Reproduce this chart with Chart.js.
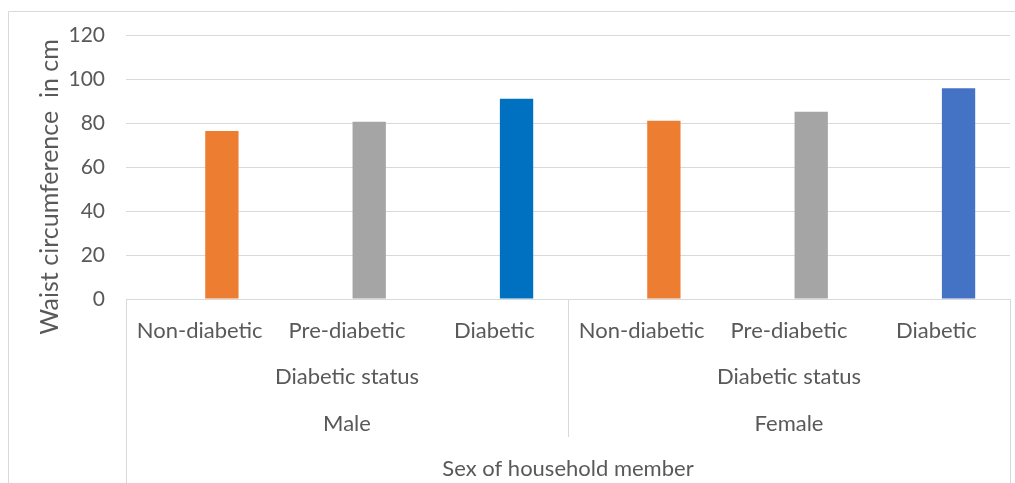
<!DOCTYPE html>
<html>
<head>
<meta charset="utf-8">
<script src="https://cdn.jsdelivr.net/npm/chart.js@4.4.1/dist/chart.umd.min.js"></script>
<style>
  html, body { margin: 0; padding: 0; background: #fff; }
  #wrap { position: relative; width: 1015px; height: 483px; }
</style>
</head>
<body>
<div id="wrap"><canvas id="c"></canvas></div>
<script>
// Mean waist circumference by diabetic status, split by sex
const categories = ['Non-diabetic', 'Pre-diabetic', 'Diabetic', 'Non-diabetic', 'Pre-diabetic', 'Diabetic'];
const waistCm = [76.4, 80.6, 91.0, 81.0, 85.1, 95.8];
const barColors = ['#ED7D31', '#A5A5A5', '#0070C0', '#ED7D31', '#A5A5A5', '#4472C4'];
const sexGroups = ['Male', 'Female'];
const statusTitle = 'Diabetic status';
const sexTitle = 'Sex of household member';
const yTitle = 'Waist circumference  in cm';
const yMin = 0, yMax = 120, yStep = 20;

const TEXT = '#595959';
const LINE = '#D9D9D9';
const FONT = 'Lato, "Noto Sans", sans-serif';

// Light frame, boxed multi-level category axis and the rotated value-axis title
const framePlugin = {
  id: 'frame',
  beforeDraw(chart) {
    const ctx = chart.ctx;
    ctx.save();
    ctx.fillStyle = '#fff';
    ctx.fillRect(0, 0, chart.width, chart.height);
    ctx.strokeStyle = LINE;
    ctx.lineWidth = 1;
    ctx.beginPath();
    ctx.moveTo(8.5, chart.height);
    ctx.lineTo(8.5, 11.5);
    ctx.lineTo(chart.width, 11.5);
    ctx.stroke();
    ctx.restore();
  },
  afterDraw(chart) {
    const { ctx, chartArea: a, scales } = chart;
    const x = scales.x, x2 = scales.x2;
    const crisp = v => Math.round(v) + 0.5;
    const mid = x.getPixelForValue(categories.length / 2 - 0.5);
    ctx.save();
    ctx.strokeStyle = LINE;
    ctx.lineWidth = 1;
    ctx.beginPath();
    ctx.moveTo(crisp(a.left), a.bottom);
    ctx.lineTo(crisp(a.left), chart.height);
    ctx.moveTo(crisp(a.right), a.bottom);
    ctx.lineTo(crisp(a.right), chart.height);
    ctx.moveTo(crisp(mid), a.bottom);
    ctx.lineTo(crisp(mid), x2.bottom - 46);
    ctx.stroke();

    ctx.translate(49.5, 187);
    ctx.rotate(-Math.PI / 2);
    ctx.fillStyle = TEXT;
    ctx.font = '25px ' + FONT;
    ctx.textAlign = 'center';
    ctx.textBaseline = 'middle';
    ctx.fillText(yTitle, 0, 0);
    ctx.restore();
  }
};

new Chart(document.getElementById('c'), {
  type: 'bar',
  data: {
    labels: categories,
    datasets: [
      { label: 'spacer', data: categories.map(() => null), xAxisID: 'x' },
      { label: 'Waist circumference', data: waistCm, backgroundColor: barColors, xAxisID: 'x' }
    ]
  },
  options: {
    responsive: true,
    maintainAspectRatio: false,
    animation: false,
    layout: { padding: { left: 0, top: 35, right: 5, bottom: 0 } },
    datasets: { bar: { categoryPercentage: 0.603, barPercentage: 0.75 } },
    plugins: { legend: { display: false }, tooltip: { enabled: false } },
    scales: {
      x: {
        type: 'category',
        offset: true,
        grid: { display: false },
        border: { display: false },
        ticks: {
          autoSkip: false, maxRotation: 0,
          padding: 11,
          color: TEXT,
          font: { family: FONT, size: 22 }
        },
        afterFit(s) { s.height = 46; }
      },
      x2: {
        type: 'category',
        position: 'bottom',
        weight: 1,
        offset: true,
        labels: sexGroups.map(g => [statusTitle, g]),
        grid: { display: false },
        border: { display: false },
        ticks: {
          autoSkip: false, maxRotation: 0,
          padding: 0,
          color: TEXT,
          font: { family: FONT, size: 22, lineHeight: 47.5 / 22 }
        },
        title: {
          display: true,
          text: sexTitle,
          color: TEXT,
          font: { family: FONT, size: 22 },
          padding: { top: 0, bottom: 1 }
        },
        afterFit(s) { s.height = 138; }
      },
      y: {
        min: yMin, max: yMax,
        ticks: {
          stepSize: yStep,
          padding: 21,
          color: TEXT,
          font: { family: FONT, size: 21 }
        },
        grid: { color: LINE, lineWidth: 1, drawTicks: false },
        border: { display: false },
        afterFit(s) { s.width = 126; }
      }
    }
  },
  plugins: [framePlugin]
});
</script>
</body>
</html>
